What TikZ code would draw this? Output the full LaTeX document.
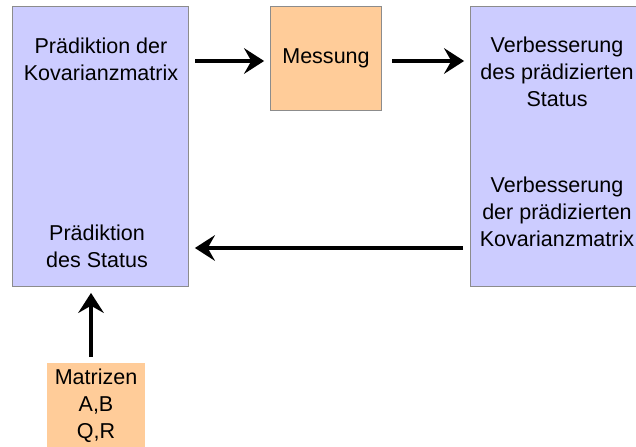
\documentclass[tikz,border=0pt]{standalone}
\usepackage{fontspec}
\setmainfont{Liberation Sans}
\usetikzlibrary{arrows.meta,positioning}

\definecolor{blockblau}{RGB}{204,204,255}
\definecolor{blockorange}{RGB}{255,204,153}
\tikzset{
  block/.style={draw=gray!90, line width=0.7pt, fill=blockblau},
  inbox/.style={fill=blockorange, draw=none},
  txt/.style={align=center, font=\fontsize{15.3}{19.2}\selectfont},
  flow/.style={line width=2.8pt, shorten >=1.6mm,
    -{Stealth[length=5mm,width=6.4mm,inset=1.8mm]}}
}

\begin{document}
\begin{tikzpicture}[x=0.025cm, y=-0.025cm]
        \useasboundingbox (0,0) rectangle (636,446);
        % Bloecke
        \node[block, minimum width=4.375cm, minimum height=6.975cm] (links) at (100.5,146.5) {};
        \node[block, fill=blockorange, minimum width=2.75cm, minimum height=2.575cm] (mess) at (326,58.5) {};
        \node[block, minimum width=4.375cm, minimum height=6.975cm] (rechts) at (558.5,146.5) {};
        \node[inbox, minimum width=2.45cm, minimum height=2.25cm] (matr) at (96,408) {};
        % Beschriftungen
        \node[txt] (kov) at (101,59) {Prädiktion der\\Kovarianzmatrix};
        \node[txt] (stat) at (97,246) {Prädiktion\\des Status};
        \node[txt] at (326,58) {Messung};
        \node[txt] (verb1) at (557,72) {Verbesserung\\des prädizierten\\Status};
        \node[txt] (verb2) at (557,212) {Verbesserung\\der prädizierten\\Kovarianzmatrix};
        \node[txt] (abqr) at (96,406) {Matrizen\\A,B\\Q,R};
        % Pfeile
        \coordinate (p1) at (195,61);
        \coordinate (p2) at (392,61);
        \coordinate (p3) at (463,248);
        \coordinate (p4) at (91,357);
        \draw[flow] (p1) -- (p1 -| mess.west) ;
        \draw[flow] (p2) -- (p2 -| rechts.west);
        \draw[flow] (p3) -- (p3 -| links.east);
        \draw[flow] (p4) -- (p4 |- links.south);
\end{tikzpicture}
\end{document}
